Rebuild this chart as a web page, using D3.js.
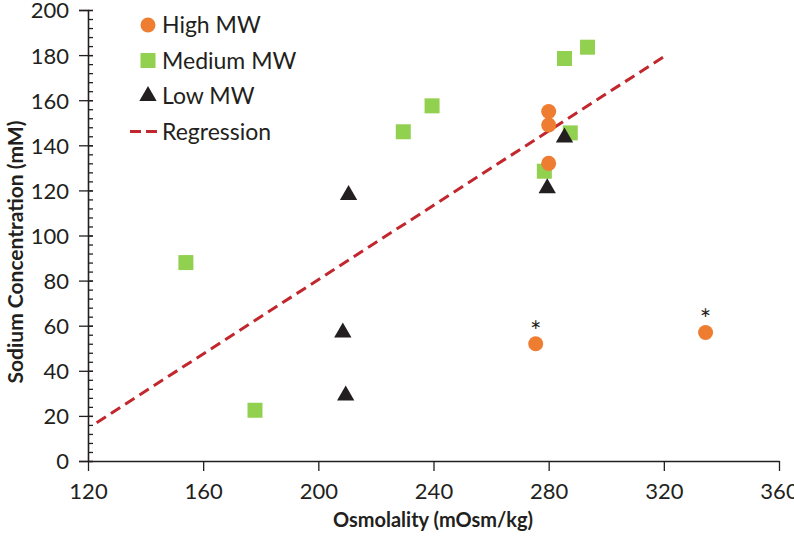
<!DOCTYPE html>
<html>
<head>
<meta charset="utf-8">
<script src="https://cdn.jsdelivr.net/npm/d3@7"></script>
<style>
  body { margin: 0; background: #fff; }
  text { font-family: Lato, "Open Sans", sans-serif; fill: #231f20; }
</style>
</head>
<body>
<svg id="chart" width="794" height="543"></svg>
<script>
// data
const highMW = [[280, 155], [280, 149], [280, 132], [275.5, 52], [334.5, 57]];
const mediumMW = [[154, 88], [178, 22.5], [229.5, 146], [239.5, 157.5], [278.5, 128.5],
                  [285.5, 178.5], [287.5, 145.5], [293.5, 183.5]];
const lowMW = [[210.5, 118], [208.5, 57], [209.5, 29], [279.5, 121], [285.5, 143.5]];
const regression = [[123, 17], [320, 179.3]];
const starred = [[275.5, 52], [334.5, 57]];

const xTicks = [120, 160, 200, 240, 280, 320, 360];
const yTicks = [0, 20, 40, 60, 80, 100, 120, 140, 160, 180, 200];
const yMinor = d3.range(0, 201, 4);

const legendItems = ["High MW", "Medium MW", "Low MW", "Regression"];

const orange = "#ee7d31", green = "#92d050", black = "#231f20", red = "#c1272d";

const svg = d3.select("#chart");
const margin = {left: 88, right: 15, top: 10, bottom: 82};
const width = 794 - margin.left - margin.right;
const height = 543 - margin.top - margin.bottom;

const g = svg.append("g").attr("transform", "translate(" + margin.left + "," + margin.top + ")");

const x = d3.scaleLinear().domain([120, 360]).range([0, width]);
const y = d3.scaleLinear().domain([0, 200]).range([height, 0]);

// y minor ticks (inside)
g.append("g")
    .attr("class", "minor")
    .call(d3.axisRight(y).tickValues(yMinor).tickSize(5).tickFormat(""))
    .call(a => a.select(".domain").remove())
    .selectAll("line").attr("stroke", black).attr("stroke-width", 1.3);

// y axis
const yAxis = g.append("g")
    .call(d3.axisLeft(y).tickValues(yTicks).tickSize(9).tickPadding(10));
yAxis.select(".domain").attr("stroke", black).attr("stroke-width", 1.6);
yAxis.selectAll("line").attr("stroke", black).attr("stroke-width", 1.3).attr("x2", -9).attr("x1", 5);
yAxis.selectAll("text").style("font-size", "22px").attr("dy", "0.36em");

// x axis
const xAxis = g.append("g")
    .attr("transform", "translate(0," + height + ")")
    .call(d3.axisBottom(x).tickValues(xTicks).tickSize(10).tickPadding(12).tickSizeOuter(0));
xAxis.select(".domain").attr("stroke", black).attr("stroke-width", 1.6);
xAxis.selectAll("line").attr("stroke", black).attr("stroke-width", 1.3);
xAxis.selectAll("text").style("font-size", "22px");

// axis titles
svg.append("text")
    .attr("x", 433)
    .attr("y", 527)
    .attr("text-anchor", "middle")
    .style("font-size", "20px").style("font-weight", "bold")
    .text("Osmolality (mOsm/kg)");

svg.append("text")
    .attr("transform", "translate(23,252) rotate(-90)")
    .attr("text-anchor", "middle")
    .style("font-size", "21px").style("font-weight", "bold")
    .text("Sodium Concentration (mM)");

// regression line
g.append("path")
    .datum(regression)
    .attr("fill", "none")
    .attr("stroke", red)
    .attr("stroke-width", 3)
    .attr("stroke-dasharray", "11,6")
    .attr("d", d3.line().x(d => x(d[0])).y(d => y(d[1])));

const sym = (type, size) => d3.symbol().type(type).size(size)();

// medium MW squares
g.selectAll(".med").data(mediumMW).join("path")
    .attr("class", "med")
    .attr("transform", d => "translate(" + x(d[0]) + "," + y(d[1]) + ")")
    .attr("d", sym(d3.symbolSquare, 225))
    .attr("fill", green);

// high MW circles
g.selectAll(".high").data(highMW).join("circle")
    .attr("class", "high")
    .attr("cx", d => x(d[0]))
    .attr("cy", d => y(d[1]))
    .attr("r", 7.5)
    .attr("fill", orange);

// low MW triangles
g.selectAll(".low").data(lowMW).join("path")
    .attr("class", "low")
    .attr("transform", d => "translate(" + x(d[0]) + "," + y(d[1]) + ")")
    .attr("d", sym(d3.symbolTriangle, 130))
    .attr("fill", black);

// asterisks
g.selectAll(".star").data(starred).join("text")
    .attr("class", "star")
    .attr("x", d => x(d[0]))
    .attr("y", d => y(d[1]) - 3)
    .attr("text-anchor", "middle")
    .style("font-size", "27px")
    .text("*");

// legend
const legend = svg.append("g").attr("transform", "translate(148,25)");
const rowH = 35.5;
legendItems.forEach((name, i) => {
    const row = legend.append("g").attr("transform", "translate(0," + (i * rowH) + ")");
    if (i === 0) row.append("circle").attr("r", 7.5).attr("fill", orange);
    if (i === 1) row.append("path").attr("d", sym(d3.symbolSquare, 225)).attr("fill", green);
    if (i === 2) row.append("path").attr("d", sym(d3.symbolTriangle, 130)).attr("fill", black);
    if (i === 3) row.append("line").attr("x1", -18).attr("x2", 9)
        .attr("stroke", red).attr("stroke-width", 3).attr("stroke-dasharray", "11,5");
    row.append("text")
        .attr("x", 14)
        .attr("y", 8)
        .style("font-size", "23px")
        .text(name);
});
</script>
</body>
</html>
